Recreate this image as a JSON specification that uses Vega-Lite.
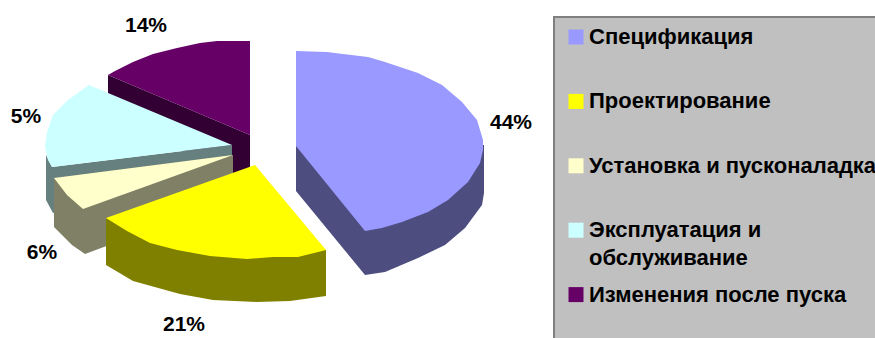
{
  "$schema": "https://vega.github.io/schema/vega-lite/v6.json",
  "width": 875,
  "height": 338,
  "padding": 0,
  "autosize": {"type": "none"},
  "background": "white",
  "view": {"stroke": null},
  "datasets": {
    "panel": [{"left": 554, "right": 885, "top": 17, "bottom": 345}],
    "wrappedLine": [{"line": "обслуживание", "px": 589, "py": 258}],
    "shares": [
      {"part": "Спецификация", "share": "44%", "px": 511, "py": 123},
      {"part": "Проектирование", "share": "21%", "px": 184, "py": 325},
      {"part": "Установка и пусконаладка", "share": "6%", "px": 42, "py": 253},
      {"part": "Эксплуатация и обслуживание", "share": "5%", "px": 26, "py": 117},
      {"part": "Изменения после пуска", "share": "14%", "px": 146, "py": 26}
    ],
    "outlines": [
      {"shape": "Изменения после пуска, грань", "i": 1, "px": 108, "py": 75},
      {"shape": "Изменения после пуска, грань", "i": 2, "px": 250, "py": 135},
      {"shape": "Изменения после пуска, грань", "i": 3, "px": 250, "py": 180},
      {"shape": "Изменения после пуска, грань", "i": 4, "px": 108, "py": 120},

      {"shape": "Изменения после пуска", "i": 1, "px": 250, "py": 41},
      {"shape": "Изменения после пуска", "i": 2, "px": 217, "py": 41},
      {"shape": "Изменения после пуска", "i": 3, "px": 200, "py": 43},
      {"shape": "Изменения после пуска", "i": 4, "px": 177, "py": 48},
      {"shape": "Изменения после пуска", "i": 5, "px": 153, "py": 54},
      {"shape": "Изменения после пуска", "i": 6, "px": 133, "py": 62},
      {"shape": "Изменения после пуска", "i": 7, "px": 115, "py": 71},
      {"shape": "Изменения после пуска", "i": 8, "px": 108, "py": 75},
      {"shape": "Изменения после пуска", "i": 9, "px": 250, "py": 135},

      {"shape": "Эксплуатация и обслуживание, грань", "i": 1, "px": 232, "py": 145},
      {"shape": "Эксплуатация и обслуживание, грань", "i": 2, "px": 232, "py": 190},
      {"shape": "Эксплуатация и обслуживание, грань", "i": 3, "px": 53, "py": 213},
      {"shape": "Эксплуатация и обслуживание, грань", "i": 4, "px": 46, "py": 200},
      {"shape": "Эксплуатация и обслуживание, грань", "i": 5, "px": 46, "py": 155},
      {"shape": "Эксплуатация и обслуживание, грань", "i": 6, "px": 52, "py": 167},

      {"shape": "Эксплуатация и обслуживание", "i": 1, "px": 232, "py": 145},
      {"shape": "Эксплуатация и обслуживание", "i": 2, "px": 89, "py": 85},
      {"shape": "Эксплуатация и обслуживание", "i": 3, "px": 68, "py": 100},
      {"shape": "Эксплуатация и обслуживание", "i": 4, "px": 53, "py": 115},
      {"shape": "Эксплуатация и обслуживание", "i": 5, "px": 47, "py": 132},
      {"shape": "Эксплуатация и обслуживание", "i": 6, "px": 45, "py": 147},
      {"shape": "Эксплуатация и обслуживание", "i": 7, "px": 48, "py": 160},
      {"shape": "Эксплуатация и обслуживание", "i": 8, "px": 52, "py": 167},

      {"shape": "Установка и пусконаладка, грань", "i": 1, "px": 233, "py": 155},
      {"shape": "Установка и пусконаладка, грань", "i": 2, "px": 233, "py": 199},
      {"shape": "Установка и пусконаладка, грань", "i": 3, "px": 85, "py": 254},
      {"shape": "Установка и пусконаладка, грань", "i": 4, "px": 72, "py": 245},
      {"shape": "Установка и пусконаладка, грань", "i": 5, "px": 54, "py": 227},
      {"shape": "Установка и пусконаладка, грань", "i": 6, "px": 54, "py": 178},

      {"shape": "Установка и пусконаладка", "i": 1, "px": 233, "py": 155},
      {"shape": "Установка и пусконаладка", "i": 2, "px": 54, "py": 178},
      {"shape": "Установка и пусконаладка", "i": 3, "px": 67, "py": 195},
      {"shape": "Установка и пусконаладка", "i": 4, "px": 83, "py": 209},

      {"shape": "Проектирование, грань", "i": 1, "px": 106, "py": 218},
      {"shape": "Проектирование, грань", "i": 2, "px": 106, "py": 265},
      {"shape": "Проектирование, грань", "i": 3, "px": 133, "py": 281},
      {"shape": "Проектирование, грань", "i": 4, "px": 180, "py": 294},
      {"shape": "Проектирование, грань", "i": 5, "px": 213, "py": 300},
      {"shape": "Проектирование, грань", "i": 6, "px": 257, "py": 302},
      {"shape": "Проектирование, грань", "i": 7, "px": 290, "py": 301},
      {"shape": "Проектирование, грань", "i": 8, "px": 326, "py": 296},
      {"shape": "Проектирование, грань", "i": 9, "px": 326, "py": 250},

      {"shape": "Проектирование", "i": 1, "px": 255, "py": 165},
      {"shape": "Проектирование", "i": 2, "px": 106, "py": 218},
      {"shape": "Проектирование", "i": 3, "px": 127, "py": 231},
      {"shape": "Проектирование", "i": 4, "px": 150, "py": 243},
      {"shape": "Проектирование", "i": 5, "px": 177, "py": 250},
      {"shape": "Проектирование", "i": 6, "px": 210, "py": 256},
      {"shape": "Проектирование", "i": 7, "px": 247, "py": 259},
      {"shape": "Проектирование", "i": 8, "px": 273, "py": 257},
      {"shape": "Проектирование", "i": 9, "px": 298, "py": 257},
      {"shape": "Проектирование", "i": 10, "px": 326, "py": 250},

      {"shape": "Спецификация, грань", "i": 1, "px": 296, "py": 146},
      {"shape": "Спецификация, грань", "i": 2, "px": 296, "py": 191},
      {"shape": "Спецификация, грань", "i": 3, "px": 365, "py": 275},
      {"shape": "Спецификация, грань", "i": 4, "px": 385, "py": 272},
      {"shape": "Спецификация, грань", "i": 5, "px": 418, "py": 258},
      {"shape": "Спецификация, грань", "i": 6, "px": 445, "py": 245},
      {"shape": "Спецификация, грань", "i": 7, "px": 465, "py": 228},
      {"shape": "Спецификация, грань", "i": 8, "px": 482, "py": 205},
      {"shape": "Спецификация, грань", "i": 9, "px": 484, "py": 193},
      {"shape": "Спецификация, грань", "i": 10, "px": 484, "py": 145},

      {"shape": "Спецификация", "i": 1, "px": 296, "py": 51},
      {"shape": "Спецификация", "i": 2, "px": 327, "py": 52},
      {"shape": "Спецификация", "i": 3, "px": 343, "py": 54},
      {"shape": "Спецификация", "i": 4, "px": 368, "py": 57},
      {"shape": "Спецификация", "i": 5, "px": 385, "py": 62},
      {"shape": "Спецификация", "i": 6, "px": 418, "py": 73},
      {"shape": "Спецификация", "i": 7, "px": 442, "py": 85},
      {"shape": "Спецификация", "i": 8, "px": 462, "py": 102},
      {"shape": "Спецификация", "i": 9, "px": 477, "py": 120},
      {"shape": "Спецификация", "i": 10, "px": 483, "py": 140},
      {"shape": "Спецификация", "i": 11, "px": 483, "py": 150},
      {"shape": "Спецификация", "i": 12, "px": 480, "py": 163},
      {"shape": "Спецификация", "i": 13, "px": 468, "py": 182},
      {"shape": "Спецификация", "i": 14, "px": 448, "py": 200},
      {"shape": "Спецификация", "i": 15, "px": 428, "py": 212},
      {"shape": "Спецификация", "i": 16, "px": 402, "py": 222},
      {"shape": "Спецификация", "i": 17, "px": 382, "py": 228},
      {"shape": "Спецификация", "i": 18, "px": 365, "py": 231},
      {"shape": "Спецификация", "i": 19, "px": 296, "py": 146}
    ]
  },
  "layer": [
    {
      "data": {"name": "panel"},
      "mark": {"type": "rect", "fill": "#C0C0C0", "stroke": "#808080", "strokeWidth": 2},
      "encoding": {
        "x": {"field": "left", "type": "quantitative", "scale": {"domain": [0, 875], "nice": false, "zero": false}, "axis": null},
        "x2": {"field": "right"},
        "y": {"field": "top", "type": "quantitative", "scale": {"domain": [338, 0], "nice": false, "zero": false}, "axis": null},
        "y2": {"field": "bottom"}
      }
    },
    {
      "data": {"name": "outlines"},
      "mark": {"type": "line", "filled": true, "strokeWidth": 0},
      "encoding": {
        "x": {"field": "px", "type": "quantitative", "axis": null},
        "y": {"field": "py", "type": "quantitative", "axis": null},
        "order": {"field": "i", "type": "quantitative"},
        "color": {
          "field": "shape",
          "type": "nominal",
          "scale": {
            "domain": [
              "Спецификация", "Проектирование", "Установка и пусконаладка", "Эксплуатация и обслуживание", "Изменения после пуска",
              "Спецификация, грань", "Проектирование, грань", "Установка и пусконаладка, грань", "Эксплуатация и обслуживание, грань", "Изменения после пуска, грань"
            ],
            "range": [
              "#9999FF", "#FFFF00", "#FFFFCC", "#CCFFFF", "#660066",
              "#4D4D80", "#808000", "#808066", "#668080", "#330033"
            ]
          },
          "legend": {
            "values": ["Спецификация", "Проектирование", "Установка и пусконаладка", "Эксплуатация и обслуживание", "Изменения после пуска"],
            "orient": "none",
            "legendX": 565,
            "legendY": 26,
            "title": null,
            "padding": 0,
            "symbolType": "square",
            "symbolSize": 225,
            "symbolStrokeWidth": 0,
            "symbolOpacity": 1,
            "labelFont": "Liberation Sans",
            "labelFontSize": 22,
            "labelFontWeight": "bold",
            "labelColor": "#000000",
            "labelOffset": 2,
            "labelLimit": 400,
            "rowPadding": 42.4,
            "labelExpr": "datum.label === 'Эксплуатация и обслуживание' ? 'Эксплуатация и' : datum.label"
          }
        }
      }
    },
    {
      "data": {"name": "wrappedLine"},
      "mark": {"type": "text", "align": "left", "font": "Liberation Sans", "fontWeight": "bold", "fontSize": 22, "color": "#000000"},
      "encoding": {
        "x": {"field": "px", "type": "quantitative", "axis": null},
        "y": {"field": "py", "type": "quantitative", "axis": null},
        "text": {"field": "line"}
      }
    },
    {
      "data": {"name": "shares"},
      "mark": {"type": "text", "font": "Liberation Sans", "fontWeight": "bold", "fontSize": 21, "color": "#000000"},
      "encoding": {
        "x": {"field": "px", "type": "quantitative", "axis": null},
        "y": {"field": "py", "type": "quantitative", "axis": null},
        "text": {"field": "share"}
      }
    }
  ]
}
